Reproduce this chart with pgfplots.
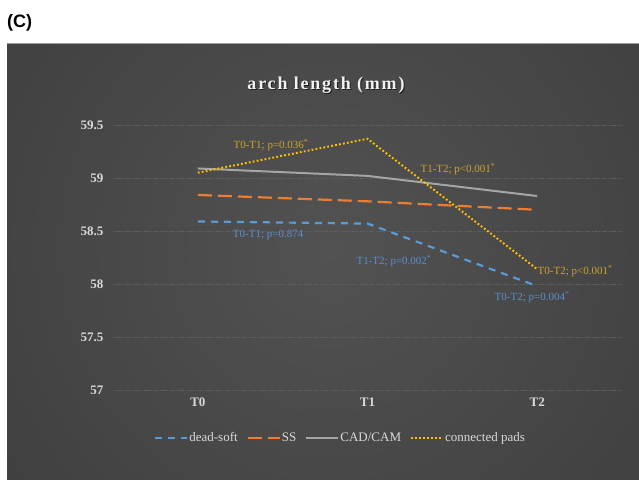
\documentclass[border=0pt]{standalone}
\usepackage{fontspec}
\setmainfont{Liberation Serif}
\newfontfamily\panelfont{Liberation Sans}
\usepackage{pgfplots}
\pgfplotsset{compat=1.18}

\definecolor{dsoft}{HTML}{5B9BD5}
\definecolor{ssorange}{HTML}{ED7D31}
\definecolor{cadgray}{HTML}{A5A5A5}
\definecolor{padgold}{HTML}{FFC000}
\definecolor{goldtext}{HTML}{CCA32A}
\definecolor{bluetext}{HTML}{5B8FCB}
\definecolor{ticktext}{HTML}{D9D9D9}
\definecolor{gridc}{HTML}{5E5E5E}
\definecolor{bgA}{HTML}{525252}
\definecolor{bgB}{HTML}{404040}
\definecolor{bgC}{HTML}{2B2B2B}
\definecolor{bgD}{HTML}{232323}

% radial background of the chart panel
\pgfdeclareradialshading{panelbg}{\pgfpoint{0bp}{0bp}}{%
  color(0bp)=(bgA); color(22bp)=(bgB); color(37bp)=(bgC);
  color(50bp)=(bgD); color(71bp)=(bgD)}

\begin{document}
\begin{tikzpicture}[x=1pt,y=1pt]
\fill[white] (0,0) rectangle (639,479);
\begin{scope}
  \clip (7,0) rectangle (639,435);
  \shade[shading=panelbg] (-120,-220) rectangle (780,680);
\end{scope}
\draw[gray!75, line width=1pt] (7,435) -- (639,435);
\node[font=\panelfont\bfseries\fontsize{18}{20}\selectfont, anchor=west, inner sep=0pt] at (7,456) {(C)};

% title with a soft shadow
\node[font=\bfseries\fontsize{18}{20}\selectfont\addfontfeature{LetterSpace=10}, text=black, opacity=0.6] at (327,392.5) {arch length (mm)};
\node[font=\bfseries\fontsize{18}{20}\selectfont\addfontfeature{LetterSpace=10}, text=white!95!black] at (326,394) {arch length (mm)};

\begin{axis}[
  at={(113pt,89pt)}, anchor=south west,
  width=509pt, height=265pt, scale only axis,
  xmin=-0.5, xmax=2.5, ymin=57, ymax=59.5,
  xtick={0,1,2}, xticklabels={T0,T1,T2},
  ytick={57,57.5,58,58.5,59,59.5},
  yticklabels={57,57.5,58,58.5,59,59.5},
  /pgf/number format/assume math mode=true,
  axis line style={draw=none},
  major tick length=0pt,
  ymajorgrids,
  major grid style={gridc, line width=0.9pt, dash pattern=on 1.2pt off 0.6pt},
  tick label style={font=\bfseries\fontsize{13}{15}\selectfont, text=ticktext},
  yticklabel style={xshift=-6pt},
  xticklabel style={yshift=-4pt},
  clip=false,
  legend columns=4,
  legend style={draw=none, fill=none, at={(0.446,-0.181)}, anchor=center,
    font=\fontsize{13}{15}\selectfont, text=ticktext,
    nodes={inner xsep=1pt},
    /tikz/every odd column/.append style={column sep=0pt},
    /tikz/every even column/.append style={column sep=8pt},
    inner sep=0pt},
  legend image code/.code={\draw[#1] (0pt,0pt) -- (32pt,0pt);},
]
\addplot[dsoft, line width=2.2pt, dash pattern=on 7pt off 6pt] coordinates {(0,58.59) (1,58.57) (2,57.98)};
\addlegendentry{dead-soft}
\addplot[ssorange, line width=2.2pt, dash pattern=on 14pt off 6pt] coordinates {(0,58.84) (1,58.78) (2,58.70)};
\addlegendentry{SS}
\addplot[cadgray, line width=2pt] coordinates {(0,59.09) (1,59.02) (2,58.83)};
\addlegendentry{CAD/CAM}
\addplot[padgold, line width=2pt, dash pattern=on 1.8pt off 2.2pt] coordinates {(0,59.05) (1,59.37) (2,58.14)};
\addlegendentry{connected pads}

% pairwise comparison labels
\begin{scope}[every node/.style={font=\fontsize{11}{13}\selectfont}]
\node[text=goldtext] at (axis cs:0.431,59.31) {T0-T1; p=0.036\textsuperscript{*}};
\node[text=bluetext] at (axis cs:0.414,58.46) {T0-T1; p=0.874};
\node[text=goldtext] at (axis cs:1.533,59.085) {T1-T2; p<0.001\textsuperscript{*}};
\node[text=bluetext] at (axis cs:1.156,58.217) {T1-T2; p=0.002\textsuperscript{*}};
\node[text=goldtext] at (axis cs:2.223,58.12) {T0-T2; p<0.001\textsuperscript{*}};
\node[text=bluetext] at (axis cs:1.97,57.877) {T0-T2; p=0.004\textsuperscript{*}};
\end{scope}
\end{axis}
\pgfresetboundingbox
\useasboundingbox (0,0) rectangle (639,479);
\end{tikzpicture}
\end{document}
